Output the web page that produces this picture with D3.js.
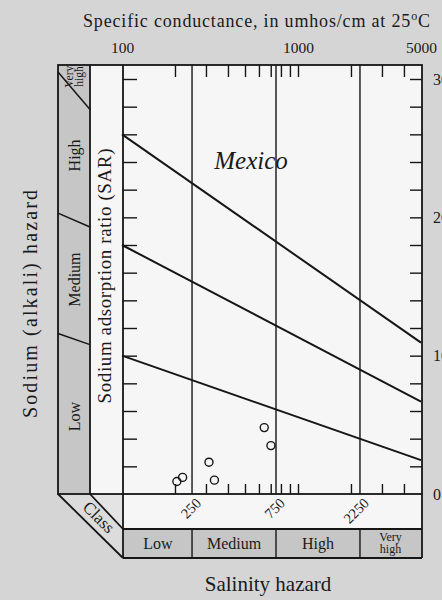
<!DOCTYPE html>
<html>
<head>
<meta charset="utf-8">
<script src="https://cdn.jsdelivr.net/npm/d3@7"></script>
<style>
  html, body { margin: 0; padding: 0; background: #d5d5d5; }
  svg { display: block; }
  svg text { font-family: "Liberation Serif", "Tinos", "Times New Roman", "DejaVu Serif", serif !important; fill: #1a1a1a; }
</style>
</head>
<body>
<svg id="chart" width="442" height="600"></svg>
<script>
// ---- data ----------------------------------------------------------------
const conductanceTicks = [200, 300, 400, 500, 600, 700, 800, 900, 1000, 2000, 3000, 4000];
const conductanceLabels = [100, 1000, 5000];
const salinityBounds = [250, 750, 2250];
const salinityClasses = ["Low", "Medium", "High", "Very high"];
const sodiumClasses = ["Low", "Medium", "High", "Very high"];
const sarTicks = [2, 4, 6, 8, 10, 12, 14, 16, 18, 20, 22, 24, 26, 28, 30];
const sarLabels = [0, 10, 20, 30];
// sodium-hazard class boundaries: SAR at 100 and at 5000 umhos/cm
const hazardSarAt100 = [10, 18, 26];
const hazardSarAt5000 = [2.45, 6.67, 10.94];
// sodium-hazard bar dividers: SAR at the bar's left and right edge
const barSarLeft = [11.6, 20.3, 30.5];
const barSarRight = [10.8, 19.3, 27.8];
// Mexico samples
const sampleConductance = [205, 221, 312, 335, 643, 702];
const sampleSar = [0.9, 1.2, 2.3, 1.0, 4.8, 3.5];

// ---- layout --------------------------------------------------------------
const serif = "'Liberation Serif', Tinos, 'Times New Roman', 'DejaVu Serif', serif";
const svg = d3.select("#chart").attr("font-family", serif);
const plotL = 123, plotR = 422, plotT = 65, plotB = 494;
const barL = 58, stripL = 90;          // sodium bar / SAR strip left edges
const stripB = 529, barB = 558;        // bottom white strip / class bar bottoms
const ink = "#161616";

const x = d3.scaleLog().domain([100, 5000]).range([122, 421]);
const y = d3.scaleLinear().domain([0, 30]).range([plotB, 79]);

// page background
svg.append("rect").attr("width", 442).attr("height", 600).attr("fill", "#d5d5d5");

// panels
svg.append("rect").attr("x", plotL).attr("y", plotT).attr("width", plotR - plotL).attr("height", plotB - plotT).attr("fill", "#f6f6f6");
svg.append("rect").attr("x", stripL).attr("y", plotT).attr("width", plotL - stripL).attr("height", plotB - plotT).attr("fill", "#f6f6f6");
svg.append("rect").attr("x", barL).attr("y", plotT).attr("width", stripL - barL).attr("height", plotB - plotT).attr("fill", "#c6c6c6");
svg.append("rect").attr("x", plotL).attr("y", plotB).attr("width", plotR - plotL).attr("height", stripB - plotB).attr("fill", "#f6f6f6");
svg.append("rect").attr("x", plotL).attr("y", stripB).attr("width", plotR - plotL).attr("height", barB - stripB).attr("fill", "#c6c6c6");
// corner triangle and the slanted "Class" face
svg.append("path").attr("d", `M${stripL},${plotB}L${plotL},${plotB}L${plotL},${stripB}Z`).attr("fill", "#e4e4e4");
svg.append("path").attr("d", `M${barL},${plotB}L${stripL},${plotB}L${plotL},${stripB}L${plotL},${barB}Z`).attr("fill", "#dcdcdc");

// outlines
const frame = svg.append("g").attr("fill", "none").attr("stroke", ink).attr("stroke-width", 1.8);
frame.append("rect").attr("x", barL).attr("y", plotT).attr("width", plotR - barL).attr("height", plotB - plotT);
frame.append("line").attr("x1", stripL).attr("x2", stripL).attr("y1", plotT).attr("y2", plotB);
frame.append("line").attr("x1", plotL).attr("x2", plotL).attr("y1", plotT).attr("y2", barB);
frame.append("line").attr("x1", plotR).attr("x2", plotR).attr("y1", plotB).attr("y2", barB);
frame.append("line").attr("x1", plotL).attr("x2", plotR).attr("y1", stripB).attr("y2", stripB);
frame.append("line").attr("x1", plotL).attr("x2", plotR).attr("y1", barB).attr("y2", barB);
frame.append("line").attr("x1", barL).attr("x2", plotL).attr("y1", plotB).attr("y2", barB);
frame.append("line").attr("x1", stripL).attr("x2", plotL).attr("y1", plotB).attr("y2", stripB);

// salinity class boundaries (plot and class bar)
salinityBounds.forEach(v => {
  svg.append("line").attr("x1", x(v)).attr("x2", x(v)).attr("y1", plotT).attr("y2", plotB)
    .attr("stroke", ink).attr("stroke-width", 1.4);
  svg.append("line").attr("x1", x(v)).attr("x2", x(v)).attr("y1", stripB).attr("y2", barB)
    .attr("stroke", ink).attr("stroke-width", 1.4);
});

// ticks
function styleTicks(g) {
  g.select(".domain").remove();
  g.selectAll(".tick line").attr("stroke", ink).attr("stroke-width", 1.4);
  g.selectAll(".tick text").remove();
}
svg.append("g").attr("transform", `translate(0,${plotT})`)
  .call(d3.axisBottom(x).tickValues(conductanceTicks).tickSize(12)).call(styleTicks);
svg.append("g").attr("transform", `translate(0,${plotB})`)
  .call(d3.axisTop(x).tickValues(conductanceTicks).tickSize(10)).call(styleTicks);
svg.append("g").attr("transform", `translate(${plotL},0)`)
  .call(d3.axisRight(y).tickValues(sarTicks).tickSize(14)).call(styleTicks);
svg.append("g").attr("transform", `translate(${plotR},0)`)
  .call(d3.axisLeft(y).tickValues(sarTicks).tickSize(12)).call(styleTicks);

// tick labels
const topAxis = svg.append("g").attr("transform", `translate(0,53)`)
  .call(d3.axisTop(x).tickValues(conductanceLabels).tickSize(0).tickPadding(0).tickFormat(d3.format("d")));
topAxis.select(".domain").remove();
topAxis.attr("font-family", serif);
topAxis.selectAll("text").attr("font-size", 15.5).attr("fill", ink);

const rightAxis = svg.append("g").attr("transform", `translate(${plotR},0)`)
  .call(d3.axisRight(y).tickValues(sarLabels).tickSize(0).tickPadding(11).tickFormat(d3.format("d")));
rightAxis.select(".domain").remove();
rightAxis.attr("font-family", serif);
rightAxis.selectAll("text").attr("font-size", 16).attr("fill", ink).attr("text-anchor", "start");

svg.append("g").selectAll("text").data(salinityBounds).join("text")
  .attr("transform", d => `translate(${x(d) + 10},504) rotate(-45)`)
  .attr("text-anchor", "end").attr("font-size", 14.5).text(d => d);

// sodium hazard class lines
const line = d3.line().x(d => x(d[0])).y(d => y(d[1]));
hazardSarAt100.forEach((s, i) => {
  svg.append("path").attr("d", line([[100, s], [5000, hazardSarAt5000[i]]]))
    .attr("fill", "none").attr("stroke", ink).attr("stroke-width", 2);
});

// sodium bar dividers and labels
barSarLeft.forEach((s, i) => {
  svg.append("line").attr("x1", barL).attr("y1", y(s)).attr("x2", stripL).attr("y2", y(barSarRight[i]))
    .attr("stroke", ink).attr("stroke-width", 1.5);
});
const bandEdges = [0].concat(barSarLeft.map((s, i) => (s + barSarRight[i]) / 2)).concat([31.2]);
sodiumClasses.forEach((c, i) => {
  const cy = (y(bandEdges[i]) + y(bandEdges[i + 1])) / 2;
  const t = svg.append("text").attr("transform", `translate(74,${cy}) rotate(-90)`)
    .attr("text-anchor", "middle");
  if (c === "Very high") {
    t.attr("font-size", 11.5);
    t.append("tspan").attr("x", 0).attr("dy", "-0.1em").text("Very");
    t.append("tspan").attr("x", 0).attr("dy", "0.85em").text("high");
  } else {
    t.attr("font-size", 16).attr("dy", "0.35em").text(c);
  }
});

// salinity class labels
const classEdges = [100].concat(salinityBounds).concat([5000]);
salinityClasses.forEach((c, i) => {
  const cx = (x(classEdges[i]) + x(classEdges[i + 1])) / 2 + (i === 0 ? 1 : 0);
  if (c === "Very high") {
    svg.append("text").attr("x", cx).attr("y", 541).attr("text-anchor", "middle")
      .attr("font-size", 12).text("Very");
    svg.append("text").attr("x", cx).attr("y", 553).attr("text-anchor", "middle")
      .attr("font-size", 12).text("high");
  } else {
    svg.append("text").attr("x", cx).attr("y", 549).attr("text-anchor", "middle")
      .attr("font-size", 16).text(c);
  }
});

// samples
svg.append("g").selectAll("circle").data(sampleConductance).join("circle")
  .attr("cx", d => x(d)).attr("cy", (d, i) => y(sampleSar[i])).attr("r", 4)
  .attr("fill", "none").attr("stroke", ink).attr("stroke-width", 1.4);

// titles
const titleText = svg.append("text").attr("x", 83).attr("y", 27).attr("font-size", 18)
  .attr("textLength", 347).attr("lengthAdjust", "spacing");
titleText.append("tspan").text("Specific conductance, in umhos/cm at 25");
titleText.append("tspan").attr("font-size", 12).attr("dy", "-0.55em").text("o");
titleText.append("tspan").attr("dy", "0.37em").text("C");

svg.append("text").attr("x", 251).attr("y", 169).attr("text-anchor", "middle")
  .attr("font-size", 25).attr("font-style", "italic").text("Mexico");

svg.append("text").attr("transform", "translate(111,276) rotate(-90)").attr("text-anchor", "middle")
  .attr("font-size", 19).attr("textLength", 255).attr("lengthAdjust", "spacing")
  .text("Sodium adsorption ratio (SAR)");

svg.append("text").attr("transform", "translate(37,304) rotate(-90)").attr("text-anchor", "middle")
  .attr("font-size", 20).attr("textLength", 228).attr("lengthAdjust", "spacing")
  .text("Sodium (alkali) hazard");

svg.append("text").attr("transform", "translate(99,517) rotate(45)").attr("text-anchor", "middle")
  .attr("dy", "0.35em").attr("font-size", 17).text("Class");

svg.append("text").attr("x", 268).attr("y", 591).attr("text-anchor", "middle")
  .attr("font-size", 21).text("Salinity hazard");
</script>
</body>
</html>
